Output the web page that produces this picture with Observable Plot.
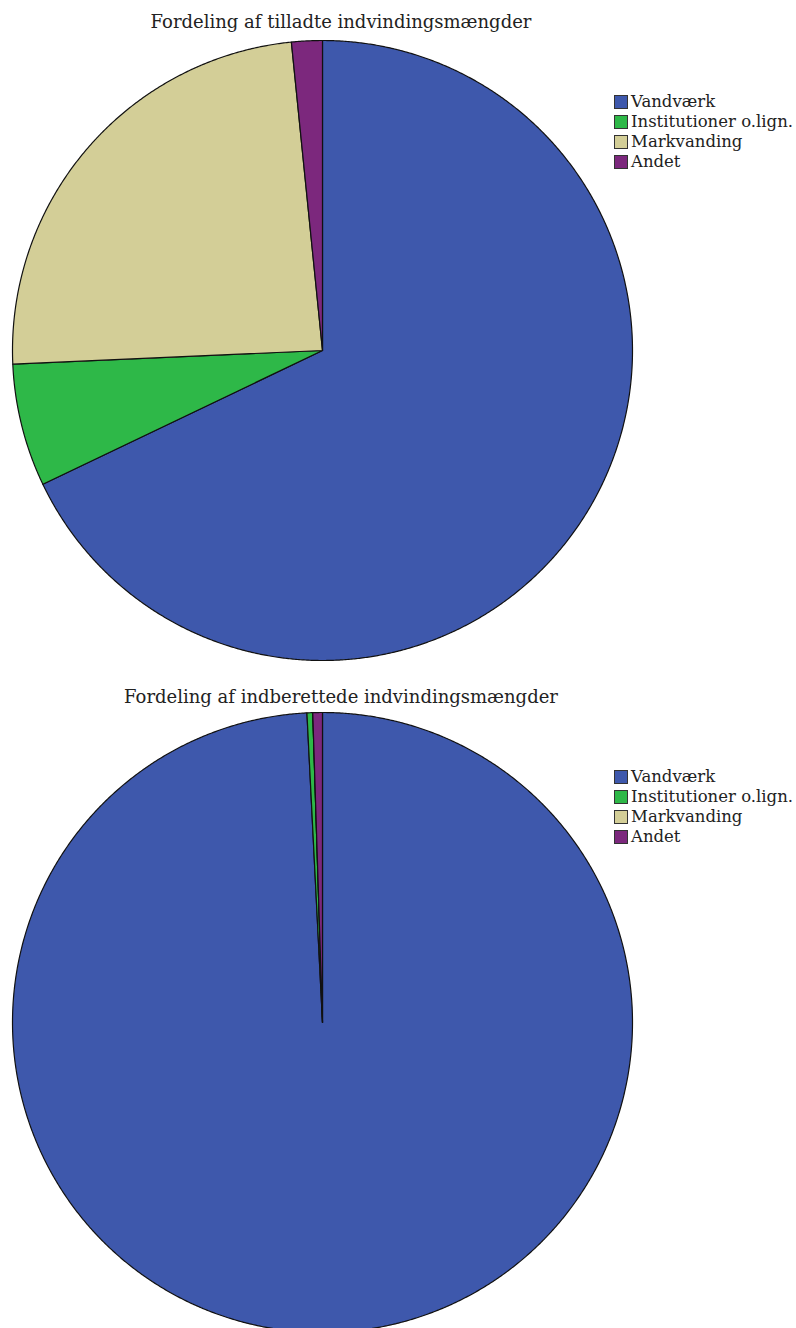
<!DOCTYPE html>
<html>
<head>
<meta charset="utf-8">
<script src="https://cdn.jsdelivr.net/npm/d3@7"></script>
<script src="https://cdn.jsdelivr.net/npm/@observablehq/plot@0.6"></script>
<style>
  html, body { margin: 0; padding: 0; background: #fff; }
  body { width: 796px; height: 1328px; overflow: hidden; position: relative; font-family: "DejaVu Serif", serif; color: #222; }
  .block { position: absolute; left: 0; width: 796px; }
  .block svg { position: absolute; left: 0; top: 0; }
  .title { position: absolute; left: 0; width: 682px; text-align: center; font-size: 18px; line-height: 22px; white-space: nowrap; }
  .legend { position: absolute; left: 614px; font-size: 16.5px; line-height: 20px; }
  .legend .row { display: flex; align-items: center; height: 20px; white-space: nowrap; }
  .legend .sw { width: 12px; height: 12px; border: 1px solid #333; margin-right: 3px; box-sizing: content-box; }
</style>
</head>
<body>
<script>
const categories = ["Vandværk", "Institutioner o.lign.", "Markvanding", "Andet"];
const colors = ["#3e58ac", "#2eb848", "#d3ce97", "#7c287d"];
const titles = ["Fordeling af tilladte indvindingsmængder", "Fordeling af indberettede indvindingsmængder"];
const tilladte = [67.9, 6.4, 24.1, 1.6];
const indberettede = [99.2, 0.3, 0.0, 0.5];

function pieSlices(values) {
  const arcs = d3.pie().sort(null).value(d => d)(values);
  const pts = [];
  arcs.forEach((a, k) => {
    const cat = categories[k];
    pts.push({cat, x: 0, y: 0});
    const n = Math.max(2, Math.ceil((a.endAngle - a.startAngle) / 0.005));
    for (let i = 0; i <= n; i++) {
      const t = a.startAngle + (a.endAngle - a.startAngle) * i / n;
      pts.push({cat, x: Math.sin(t), y: Math.cos(t)});
    }
    pts.push({cat, x: 0, y: 0});
  });
  return pts;
}

function block(values, title, top, h, titleTop, legendTop) {
  const div = document.createElement("div");
  div.className = "block";
  div.style.top = top + "px";
  div.style.height = h + "px";
  const plot = Plot.plot({
    width: 796,
    height: h,
    marginLeft: 12,
    marginRight: 164,
    marginTop: 40,
    marginBottom: h - 660,
    x: {domain: [-1, 1], axis: null},
    y: {domain: [-1, 1], axis: null},
    color: {domain: categories, range: colors, legend: false},
    style: {background: "transparent", overflow: "visible"},
    marks: [
      Plot.line(pieSlices(values), {x: "x", y: "y", z: "cat", fill: "cat", stroke: "#111", strokeWidth: 1.2, strokeLinejoin: "round"})
    ]
  });
  div.appendChild(plot);
  const t = document.createElement("div");
  t.className = "title";
  t.style.top = titleTop + "px";
  t.textContent = title;
  div.appendChild(t);
  const lg = document.createElement("div");
  lg.className = "legend";
  lg.style.top = legendTop + "px";
  categories.forEach((c, i) => {
    const r = document.createElement("div");
    r.className = "row";
    const s = document.createElement("span");
    s.className = "sw";
    s.style.background = colors[i];
    const l = document.createElement("span");
    l.textContent = c;
    r.appendChild(s); r.appendChild(l);
    lg.appendChild(r);
  });
  div.appendChild(lg);
  document.body.appendChild(div);
}

block(tilladte, titles[0], 0, 670, 11, 92);
block(indberettede, titles[1], 672, 670, 14, 95);
</script>
</body>
</html>
